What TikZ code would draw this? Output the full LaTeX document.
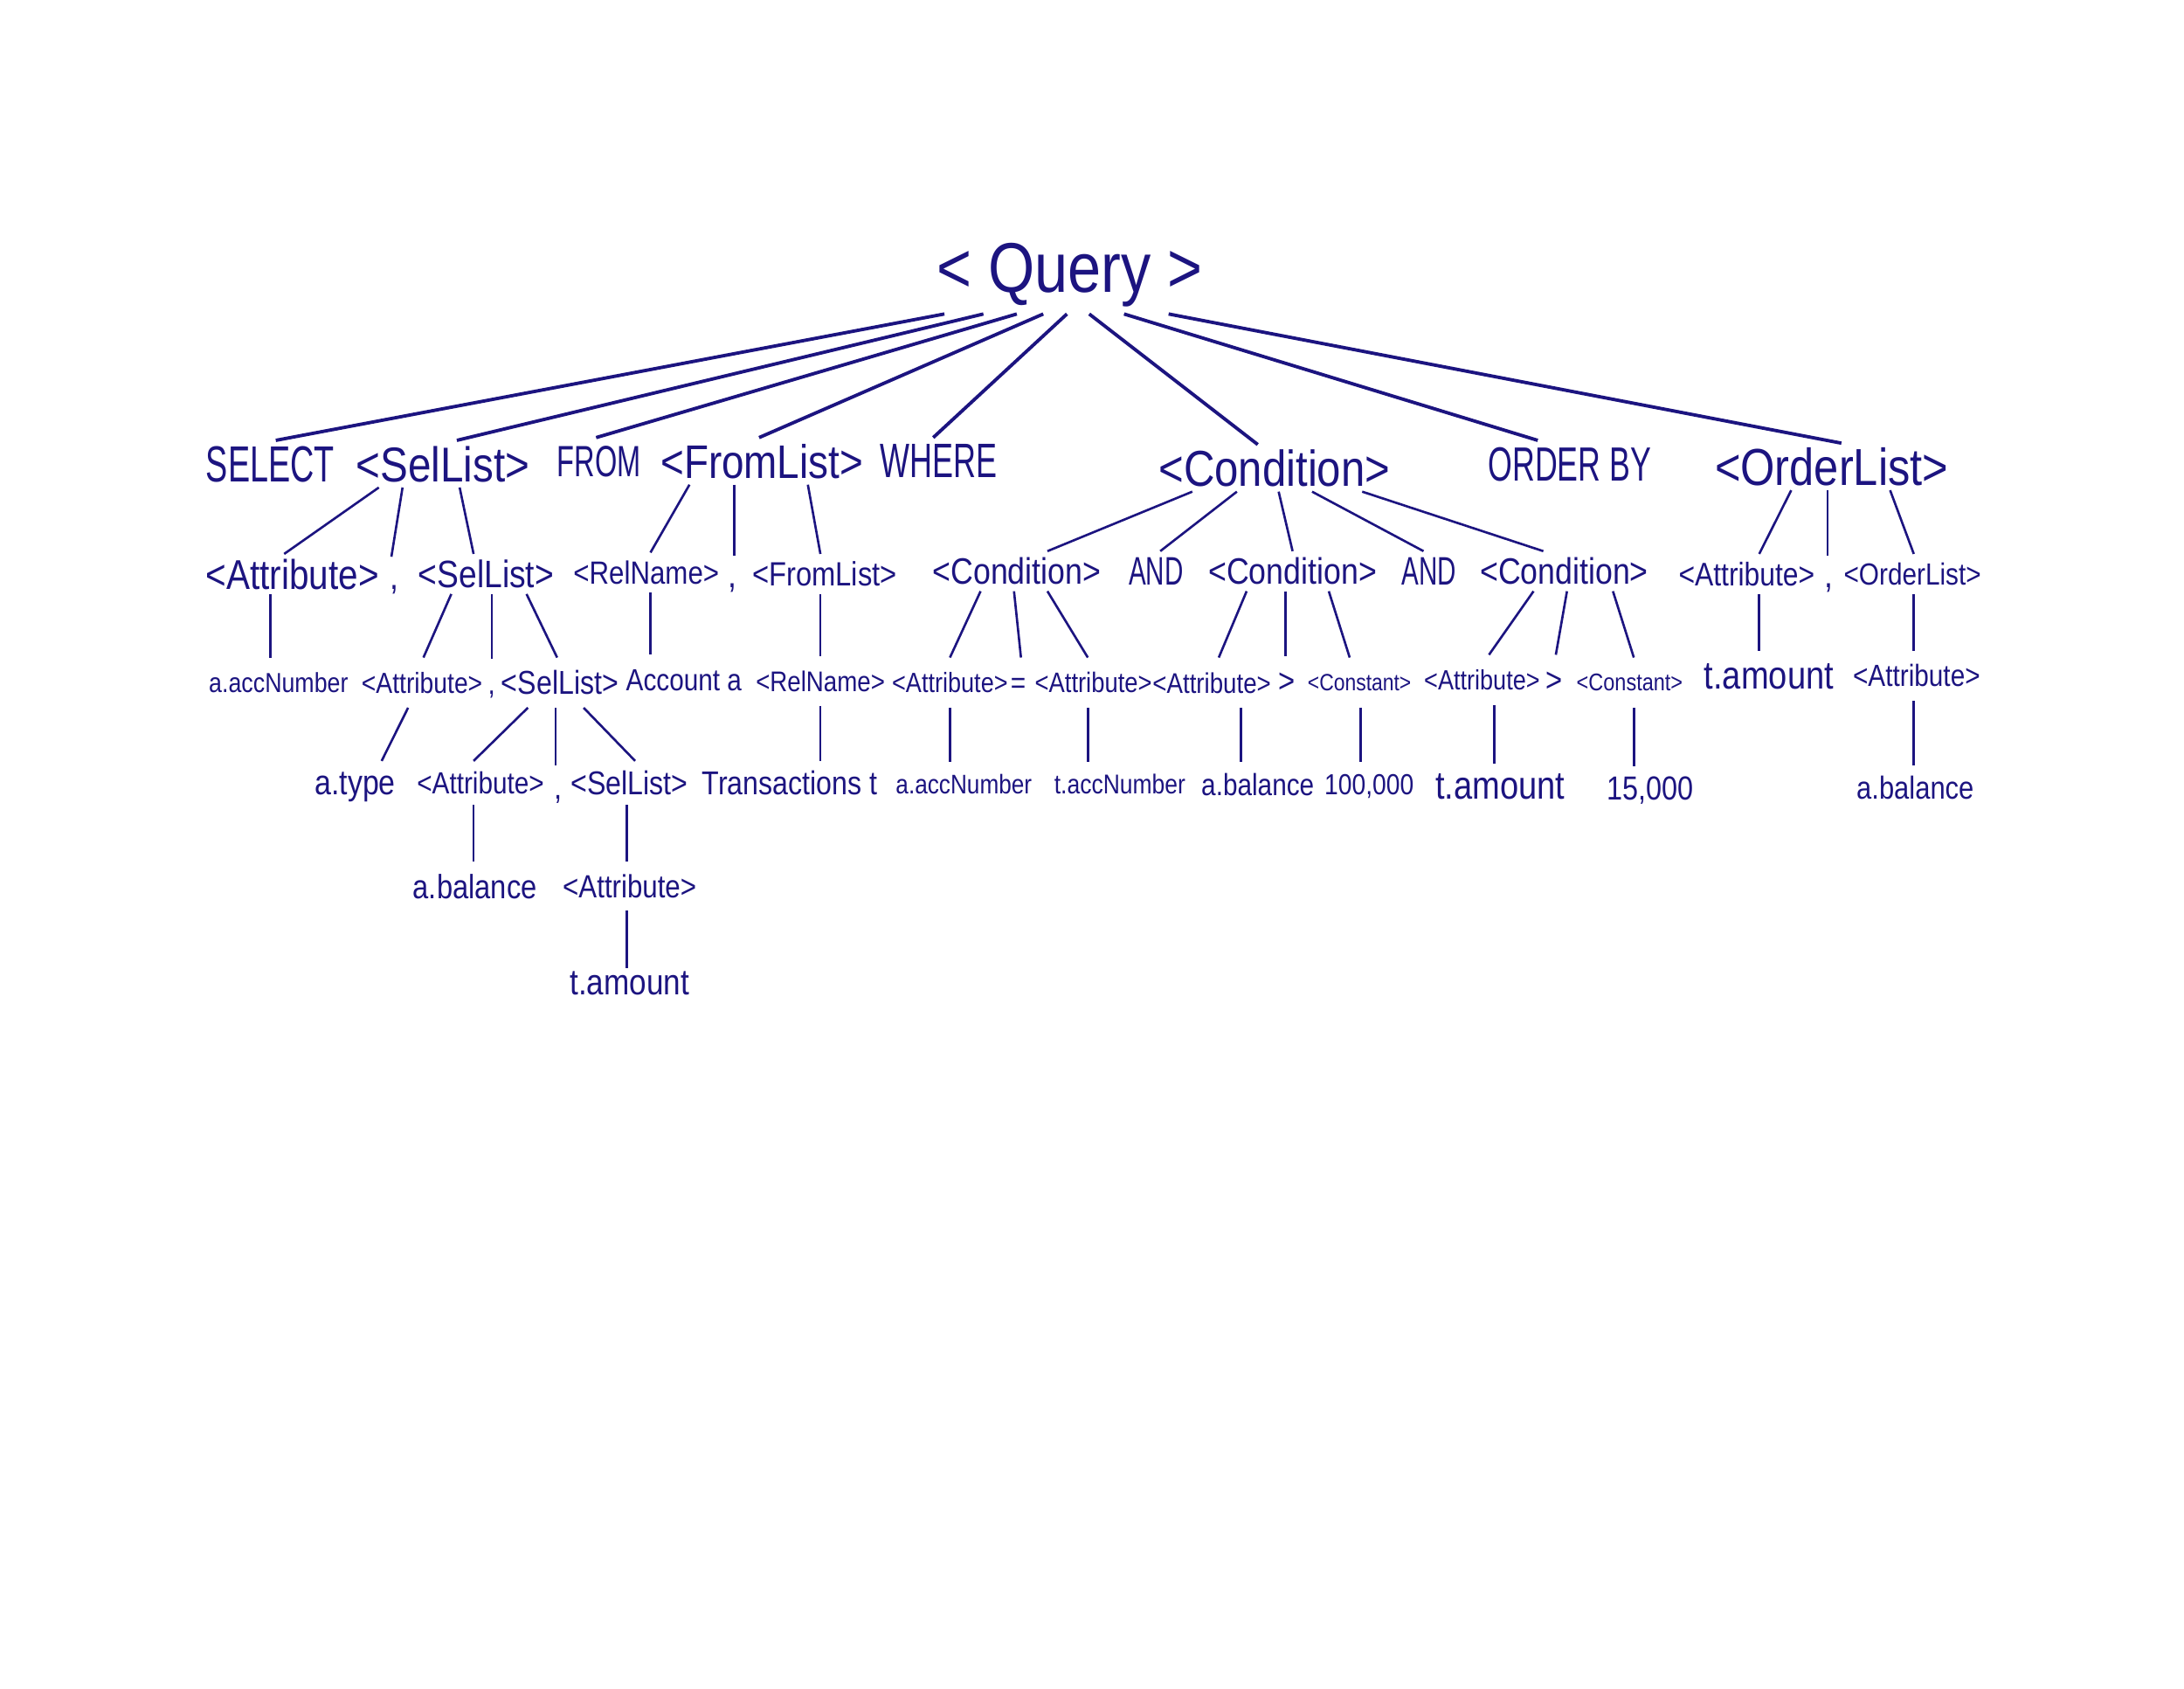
\documentclass[tikz,border=0pt]{standalone}
\usepackage{fontspec}
\setmainfont[FakeStretch=0.85]{Liberation Sans}
\newfontfamily\kwfont[FakeStretch=0.65]{Liberation Sans}
\usetikzlibrary{calc}
\definecolor{ink}{RGB}{28,20,128}

\begin{document}
\begin{tikzpicture}[
  x=0.016cm, y=-0.016cm,
  every node/.style={text=ink, inner sep=0pt, text depth=0pt,
    execute at begin node=\vphantom{A}},
  sz/.style={font=\fontsize{#1}{#1}\selectfont},
  kw/.style={font=\kwfont\fontsize{#1}{#1}\selectfont},
  row0/.style={minimum height=30pt, sz=23},
  row1/.style={minimum height=15pt, sz=16},
  row2/.style={minimum height=12.7pt, sz=12},
  row3/.style={minimum height=16pt, sz=9.2},
  row4/.style={minimum height=14pt, sz=10.5},
  row5/.style={minimum height=15.5pt, sz=11},
  row6/.style={minimum height=9pt, sz=11.8},
  branch/.style={draw=ink, line width=0.75pt},
]
  \fill[white] (0,0) rectangle (1568,1212);
  \useasboundingbox (0,0) rectangle (1568,1212);

  % root
  \node[row0] (query) at (768,192) {< Query >};

  % first level
  \node[row1, kw=16.6] (select) at (194,333) {SELECT};
  \node[row1] (sellist) at (318,333) {<SelList>};
  \node[row1, kw=14.3] (from) at (430,331) {FROM};
  \node[row1, sz=15.4] (fromlist) at (547,331) {<FromList>};
  \node[row1, kw=15.8] (where) at (674,331) {WHERE};
  \node[row1, sz=16.5] (cond) at (915,336) {<Condition>};
  \node[row1, kw=15.7] (orderby) at (1127,333) {ORDER BY};
  \node[row1, sz=17] (orderlist) at (1315,335) {<OrderList>};

  % second level
  \node[row2, sz=13.6] (attrA) at (210,412) {<Attribute>};
  \node[row2] (commaA) at (283,414) {,};
  \node[row2, sz=12.5] (sellistB) at (349,412) {<SelList>};
  \node[row2, sz=10.5] (relnameA) at (464,411) {<RelName>};
  \node[row2] (commaB) at (526,413) {,};
  \node[row2, sz=11] (fromlistB) at (592,412) {<FromList>};
  \node[row2] (condA) at (730,410) {<Condition>};
  \node[row2, kw=13] (andA) at (830,410) {AND};
  \node[row2] (condB) at (928,410) {<Condition>};
  \node[row2, kw=13] (andB) at (1026,410) {AND};
  \node[row2] (condC) at (1123,410) {<Condition>};
  \node[row2, sz=10.7] (attrB) at (1254,412) {<Attribute>};
  \node[row2] (commaC) at (1313,413) {,};
  \node[row2, sz=10] (orderlistB) at (1373,412) {<OrderList>};

  % third level
  \node[row3, sz=9] (accA) at (200,490) {a.accNumber};
  \node[row3, sz=9.5] (attrC) at (303,490) {<Attribute>};
  \node[row3, sz=10] (commaD) at (353,491) {,};
  \node[row3, sz=10.8] (sellistC) at (402,490) {<SelList>};
  \node[row3, sz=10] (account) at (491,488) {Account a};
  \node[row3, sz=9.3] (relnameB) at (589,489) {<RelName>};
  \node[row3, sz=9.1] (attrD) at (682,490) {<Attribute>};
  \node[row3, sz=10] (eq) at (731,490) {=};
  \node[row3] (attrE) at (785,490) {<Attribute>};
  \node[row3, sz=9.3] (attrF) at (870,490) {<Attribute>};
  \node[row3, sz=11] (gtA) at (924,489) {>};
  \node[row3, sz=7.7] (constA) at (976,490) {<Constant>};
  \node[row3, sz=9.1] (attrG) at (1064,488) {<Attribute>};
  \node[row3, sz=11] (gtB) at (1116,488) {>};
  \node[row3, sz=7.9] (constB) at (1170,490) {<Constant>};
  \node[row3, sz=12.8] (tamA) at (1270,485) {t.amount};
  \node[row3, sz=10] (attrH) at (1376,485) {<Attribute>};

  % fourth level
  \node[row4, sz=11.4] (atype) at (255,562) {a.type};
  \node[row4, sz=10] (attrI) at (345,562) {<Attribute>};
  \node[row4, sz=11] (commaE) at (401,565) {,};
  \node[row4, sz=10.8] (sellistD) at (452,562) {<SelList>};
  \node[row4, sz=10.8] (trans) at (567,562) {Transactions t};
  \node[row4, sz=8.8] (accB) at (692,563) {a.accNumber};
  \node[row4, sz=8.9] (taccn) at (804,563) {t.accNumber};
  \node[row4, sz=10] (abalA) at (903,563) {a.balance};
  \node[row4, sz=9.5] (hundred) at (983,563) {100,000};
  \node[row4, sz=12.8] (tamB) at (1077,564) {t.amount};
  \node[row4, sz=10.9] (fifteen) at (1185,566) {15,000};
  \node[row4, sz=10.4] (abalB) at (1375,565) {a.balance};

  % fifth and sixth level
  \node[row5] (abalC) at (341,636) {a.balance};
  \node[row5, sz=10.5] (attrJ) at (452,636) {<Attribute>};
  \node[row6] (tamC) at (452,705) {t.amount};

  % branches from the root
  \foreach \c/\a/\b in {select/-90/4, sellist/-62/10, from/-38/-2,
      fromlist/-19/-2, where/-2/-4, cond/14/-12, orderby/39/-23,
      orderlist/71/7}
    \draw[branch, line width=1.1pt] ($(query.south)+(\a,0)$) -- ($(\c.north)+(\b,0)$);

  % all other branches
  \foreach \p/\a/\c/\b in {
      sellist/-46/attrA/-6, sellist/-29/commaA/-2, sellist/12/sellistB/-9,
      fromlist/-52/relnameA/3, fromlist/-20/commaB/1, fromlist/33/fromlistB/-3,
      cond/-59/condA/22, cond/-27/andA/3, cond/3/condB/0, cond/27/andB/-4,
      cond/63/condC/-15,
      orderlist/-29/attrB/9, orderlist/-3/commaC/-1, orderlist/42/orderlistB/1,
      attrA/-16/accA/-6,
      sellistB/-25/attrC/1, sellistB/4/commaD/0, sellistB/29/sellistC/-2,
      relnameA/3/account/-24, fromlistB/-3/relnameB/0,
      condA/-26/attrD/0, condA/-2/eq/2, condA/22/attrE/-4,
      condB/-33/attrF/5, condB/-5/gtA/-1, condB/26/constA/-7,
      condC/-22/attrG/5, condC/2/gtB/1, condC/35/constB/3,
      attrB/9/tamA/-7, orderlistB/1/attrH/-2,
      attrC/-10/atype/19,
      sellistC/-23/attrI/-5, sellistC/-3/commaE/-2, sellistC/17/sellistD/4,
      relnameB/0/trans/22, attrD/0/accB/-10, attrE/-4/taccn/-23,
      attrF/21/abalA/-12, constA/1/hundred/-6, attrG/9/tamB/-4,
      constB/3/fifteen/-12, attrH/-2/abalB/-1,
      attrI/-5/abalC/-1, sellistD/-2/attrJ/-2, attrJ/-2/tamC/-2}
    \draw[branch] ($(\p.south)+(\a,0)$) -- ($(\c.north)+(\b,0)$);
\end{tikzpicture}
\end{document}
